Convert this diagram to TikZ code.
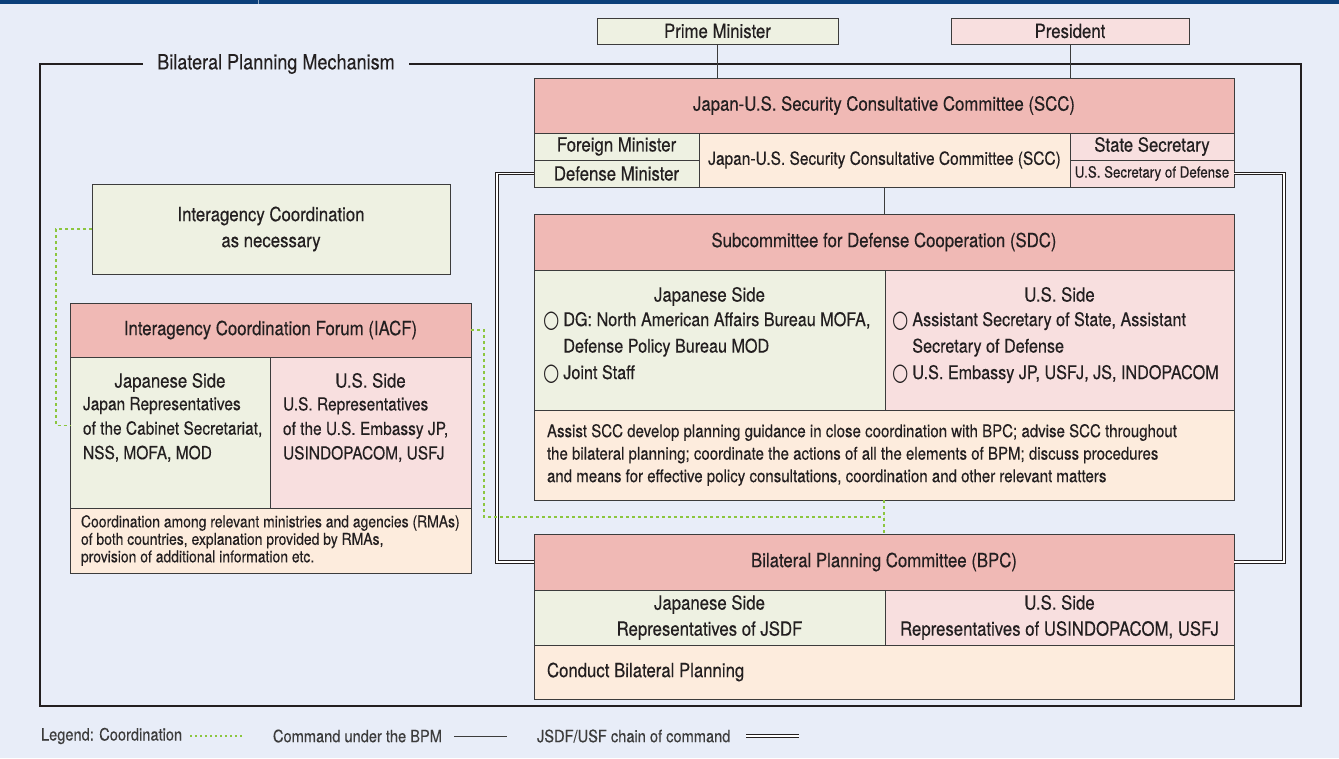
\documentclass[tikz,border=0pt]{standalone}
\usepackage{fontspec}
\setmainfont{TeX Gyre Heros}[FakeStretch=0.86, FakeBold=0.35]
\newfontfamily\symfont{DejaVu Sans}
\usetikzlibrary{positioning,calc}

\definecolor{bgblue}{HTML}{E8EDF8}
\definecolor{navy}{HTML}{0B3F7A}
\definecolor{hdrred}{HTML}{F0B9B5}
\definecolor{jpgreen}{HTML}{EEF1E2}
\definecolor{uspink}{HTML}{F8DFDF}
\definecolor{notebeige}{HTML}{FDECDD}
\definecolor{linegray}{HTML}{3C3C3C}
\definecolor{framedark}{HTML}{231F20}
\definecolor{coordgreen}{HTML}{8CC63F}

\newcommand{\mainsize}{\fontsize{19.5}{26}\selectfont}
\newcommand{\bul}{{\symfont\fontsize{24}{24}\selectfont\raisebox{-1.5pt}{\scalebox{0.78}[1]{\char"25CB}}}\hspace{4pt}}

\tikzset{
  cell/.style={draw=linegray, line width=0.8pt, anchor=north west, align=center},
  hdrcell/.style={cell, fill=hdrred},
  jpcell/.style={cell, fill=jpgreen},
  uscell/.style={cell, fill=uspink},
  notecell/.style={cell, fill=notebeige},
  coordline/.style={draw=coordgreen, line width=1.3pt, dash pattern=on 3pt off 3pt},
  cmdline/.style={draw=linegray, line width=0.8pt},
  chainline/.style={draw=framedark, line width=1pt, double=white, double distance=1.6pt},
  legend/.style={font=\fontsize{17}{18}\selectfont, text=linegray}
}

\begin{document}
\begin{tikzpicture}[x=1pt, y=-1pt, every node/.style={inner sep=0pt, outer sep=0pt, font=\mainsize, text=framedark}]
\fill[bgblue] (0,0) rectangle (1339,758);
\useasboundingbox (0,0) rectangle (1339,758);
\fill[navy] (0,0) rectangle (1339,3.5);
\draw[white!55!navy, line width=0.6pt] (258,0) -- (258,3.5);

% heads of government
\node[jpcell, minimum width=241pt, minimum height=26pt] (pm) at (597,18) {Prime Minister};
\node[uscell, minimum width=238pt, minimum height=26pt] (pres) at (951,18) {President};

% bilateral planning mechanism frame
\draw[framedark, line width=2.6pt] (40,64) rectangle (1301,706);
\node[fill=bgblue, inner xsep=14pt, inner ysep=2pt, font=\fontsize{21}{24}\selectfont] (bpm) at (276,64) {Bilateral Planning Mechanism};

% SCC
\node[hdrcell, minimum width=700pt, minimum height=55pt] (scc) at (534,78) {Japan-U.S. Security Consultative Committee (SCC)};
\node[jpcell, minimum width=165pt, minimum height=27pt] (fm) at (scc.south west) {Foreign Minister};
\node[jpcell, minimum width=165pt, minimum height=27pt] (dm) at (fm.south west) {Defense Minister};
\node[notecell, minimum width=371pt, minimum height=54pt, font=\fontsize{18}{20}\selectfont] (sccmid) at (fm.north east) {Japan-U.S. Security Consultative Committee (SCC)};
\node[uscell, minimum width=164pt, minimum height=27pt] (ss) at (sccmid.north east) {State Secretary};
\node[uscell, minimum width=164pt, minimum height=27pt, font=\fontsize{15.5}{18}\selectfont] (ussd) at (ss.south west) {U.S. Secretary of Defense};

% SDC
\node[hdrcell, minimum width=700pt, minimum height=56pt] (sdc) at (534,214) {Subcommittee for Defense Cooperation (SDC)};
\node[jpcell, minimum width=351pt, minimum height=140pt] (sdcjp) at (sdc.south west) {};
\node[uscell, minimum width=349pt, minimum height=140pt] (sdcus) at (sdcjp.north east) {};
\node[notecell, minimum width=700pt, minimum height=90pt] (sdcnote) at (sdcjp.south west) {};
\node[below=17pt of sdcjp.north] (sdcjphd) {Japanese Side};
\node[below=17pt of sdcus.north] (sdcushd) {U.S. Side};
\node[below right=42pt and 9pt of sdcjp.north west, anchor=north west, align=left, font=\fontsize{18.8}{26.5}\selectfont] (sdcjptx) {\bul DG: North American Affairs Bureau MOFA,\\
  \hphantom{\bul}Defense Policy Bureau MOD\\
  \bul Joint Staff};
\node[below right=42pt and 7pt of sdcus.north west, anchor=north west, align=left, font=\fontsize{18.8}{26.5}\selectfont] (sdcustx) {\bul Assistant Secretary of State, Assistant\\
  \hphantom{\bul}Secretary of Defense\\
  \bul U.S. Embassy JP, USFJ, JS, INDOPACOM};
\node[right=13pt of sdcnote.west, align=left, font=\fontsize{17.5}{22.5}\selectfont] (sdcnotetx) {Assist SCC develop planning guidance in close coordination with BPC; advise SCC throughout\\
  the bilateral planning; coordinate the actions of all the elements of BPM; discuss procedures\\
  and means for effective policy consultations, coordination and other relevant matters};

% BPC
\node[hdrcell, minimum width=700pt, minimum height=56pt] (bpc) at (534,534) {Bilateral Planning Committee (BPC)};
\node[jpcell, minimum width=351pt, minimum height=55pt] (bpcjp) at (bpc.south west) {Japanese Side\\Representatives of JSDF};
\node[uscell, minimum width=349pt, minimum height=55pt] (bpcus) at (bpcjp.north east) {U.S. Side\\Representatives of USINDOPACOM, USFJ};
\node[notecell, minimum width=700pt, minimum height=54pt] (bpcnote) at (bpcjp.south west) {};
\node[right=13pt of bpcnote.west] (bpcnotetx) {Conduct Bilateral Planning};

% interagency side
\node[jpcell, minimum width=358pt, minimum height=90pt] (iac) at (92,184) {Interagency Coordination\\as necessary};
\node[hdrcell, minimum width=401pt, minimum height=54pt] (iacf) at (70,303) {Interagency Coordination Forum (IACF)};
\node[jpcell, minimum width=200pt, minimum height=151pt] (iacfjp) at (iacf.south west) {};
\node[uscell, minimum width=201pt, minimum height=151pt] (iacfus) at (iacfjp.north east) {};
\node[notecell, minimum width=401pt, minimum height=65pt] (iacfnote) at (iacfjp.south west) {};
\node[below=16pt of iacfjp.north] (iacfjphd) {Japanese Side};
\node[below=16pt of iacfus.north] (iacfushd) {U.S. Side};
\node[below right=40pt and 13pt of iacfjp.north west, anchor=north west, align=left, font=\fontsize{18}{24.5}\selectfont] (iacfjptx) {Japan Representatives\\of the Cabinet Secretariat,\\NSS, MOFA, MOD};
\node[below right=40pt and 13pt of iacfus.north west, anchor=north west, align=left, font=\fontsize{18}{24.5}\selectfont] (iacfustx) {U.S. Representatives\\of the U.S. Embassy JP,\\USINDOPACOM, USFJ};
\node[right=11pt of iacfnote.west, align=left, font=\fontsize{16.2}{17.5}\selectfont] (iacfnotetx) {Coordination among relevant ministries and agencies (RMAs)\\
  of both countries, explanation provided by RMAs,\\
  provision of additional information etc.};

% command lines
\draw[cmdline] (pm.south) -- (pm.south |- scc.north);
\draw[cmdline] (pres.south) -- (pres.south |- scc.north);
\draw[cmdline] (sccmid.south) -- (sccmid.south |- sdc.north);

% chain of command
\draw[chainline] (dm.west) -- ++(-37,0) |- (bpc.west);
\draw[chainline] (ussd.east) -- ++(50,0) |- (bpc.east);

% coordination
\coordinate (cj) at ($(sdcnote.south)!0.5!(bpc.north)$);
\draw[coordline] (sdcnote.south) -- (bpc.north);
\draw[coordline] (iacf.east) -- ++(13,0) |- (cj);
\draw[coordline] (iac.west) -- ++(-36,0) |- ([yshift=7pt]iacfjp.west);

% legend
\node[legend, anchor=west] (lgcoord) at (41,736) {Legend: Coordination};
\draw[coordline, line width=1.1pt, dash pattern=on 2pt off 3pt] (190,736) -- (244,736);
\node[legend, anchor=west] (lgcmd) at (273,736) {Command under the BPM};
\draw[cmdline] (454,736) -- (507,736);
\node[legend, anchor=west] (lgchain) at (537,736) {JSDF/USF chain of command};
\draw[chainline, line width=1.4pt, double distance=1.8pt] (746,736) -- (799,736);
\end{tikzpicture}
\end{document}
